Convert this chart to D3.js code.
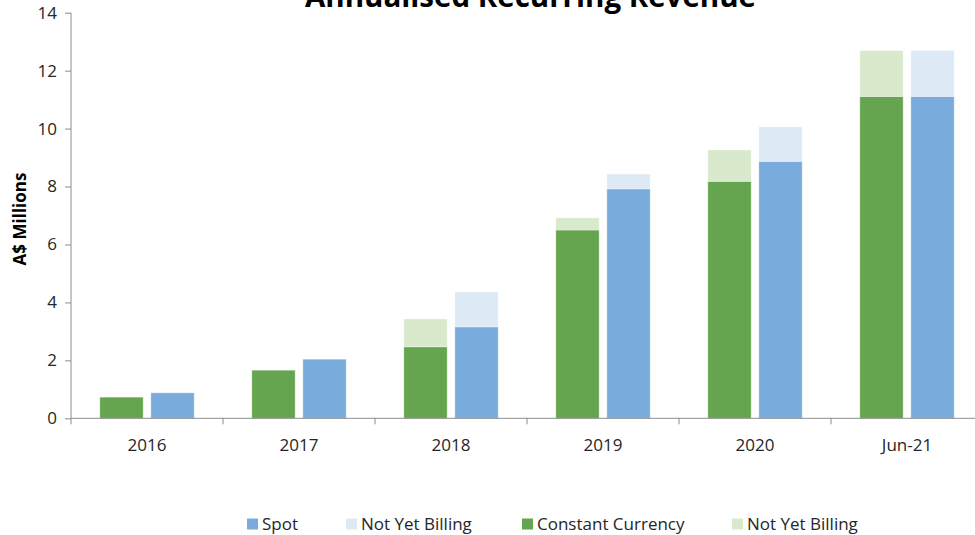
<!DOCTYPE html>
<html>
<head>
<meta charset="utf-8">
<script src="https://cdn.jsdelivr.net/npm/d3@7"></script>
<style>
  html, body { margin: 0; padding: 0; background: #fff; }
  svg { display: block; font-family: "Open Sans", sans-serif; }
</style>
</head>
<body>
<svg id="chart" width="975" height="535"></svg>
<script>
const categories = ['2016', '2017', '2018', '2019', '2020', 'Jun-21'];
const constantCurrency = [0.73, 1.66, 2.47, 6.50, 8.18, 11.11];
const ccNotYetBilling = [0, 0, 0.96, 0.42, 1.08, 1.58];
const spot = [0.88, 2.04, 3.16, 7.92, 8.87, 11.11];
const spotNotYetBilling = [0, 0, 1.20, 0.51, 1.19, 1.58];
const yTicks = [0, 2, 4, 6, 8, 10, 12, 14];
const titleText = 'Annualised Recurring Revenue';
const yLabel = 'A$ Millions';
const legendItems = [
  { label: 'Spot', key: 'spot' },
  { label: 'Not Yet Billing', key: 'spotNYB' },
  { label: 'Constant Currency', key: 'cc' },
  { label: 'Not Yet Billing', key: 'ccNYB' }
];

const colors = {
  cc: '#65a550',
  ccNYB: '#d9e9cc',
  spot: '#79acdc',
  spotNYB: '#dde9f5'
};

const svg = d3.select('#chart');
const plotLeft = 71, plotRight = 983, plotTop = 12.7, plotBottom = 418.3;

const x0 = d3.scaleBand().domain(categories).range([plotLeft, plotRight]).padding(0);
const bw = x0.bandwidth();
const x1 = d3.scaleBand().domain(['cc', 'spot'])
  .range([bw / 2 - 47.2, bw / 2 + 47.2]).paddingInner(0.15).paddingOuter(0);
const y = d3.scaleLinear().domain([0, 14]).range([plotBottom, plotTop]);

// bars
const rows = categories.map((c, i) => ({
  cat: c,
  stacks: [
    { key: 'cc', base: constantCurrency[i], top: ccNotYetBilling[i], cBase: colors.cc, cTop: colors.ccNYB },
    { key: 'spot', base: spot[i], top: spotNotYetBilling[i], cBase: colors.spot, cTop: colors.spotNYB }
  ]
}));

const g = svg.append('g');
rows.forEach(r => {
  r.stacks.forEach(s => {
    const bx = x0(r.cat) + x1(s.key);
    const w = x1.bandwidth();
    g.append('rect')
      .attr('x', bx).attr('width', w)
      .attr('y', y(s.base)).attr('height', y(0) - y(s.base))
      .attr('fill', s.cBase)
      .attr('stroke', '#ffffff').attr('stroke-opacity', 0.35).attr('stroke-width', 1);
    if (s.top > 0) {
      g.append('rect')
        .attr('x', bx).attr('width', w)
        .attr('y', y(s.base + s.top)).attr('height', y(s.base) - y(s.base + s.top))
        .attr('fill', s.cTop)
        .attr('stroke', '#ffffff').attr('stroke-opacity', 0.35).attr('stroke-width', 1);
    }
  });
});

// y axis
const yAxis = d3.axisLeft(y).tickValues(yTicks).tickSize(6).tickPadding(8).tickFormat(d3.format('d'));
const yg = svg.append('g').attr('transform', `translate(${plotLeft},0)`).call(yAxis);
yg.select('.domain').attr('stroke', '#8c8c8c').attr('d', `M-0,${plotTop}V${plotBottom}`);
yg.selectAll('.tick line').attr('stroke', '#8c8c8c');
yg.selectAll('.tick text').attr('fill', '#262626').style('font-size', '17px').style('font-family', '"Open Sans", sans-serif');

// x axis
const xg = svg.append('g').attr('transform', `translate(0,${plotBottom})`);
xg.append('line').attr('x1', plotLeft).attr('x2', plotRight).attr('y1', 0).attr('y2', 0).attr('stroke', '#8c8c8c');
const bounds = categories.map(c => x0(c)).concat([plotRight]);
xg.selectAll('line.tk').data(bounds).join('line').attr('class', 'tk')
  .attr('x1', d => d).attr('x2', d => d).attr('y1', 0).attr('y2', 6).attr('stroke', '#8c8c8c');
xg.selectAll('text').data(categories).join('text')
  .attr('x', d => x0(d) + bw / 2).attr('y', 32.5)
  .attr('text-anchor', 'middle').attr('fill', '#262626')
  .style('font-size', '17px').text(d => d);

// title
svg.append('text').attr('x', 530.5).attr('y', 7).attr('text-anchor', 'middle')
  .style('font-size', '29.5px').style('font-weight', 'bold').attr('fill', '#000').text(titleText);

// y label
svg.append('text').attr('transform', 'translate(26,219) rotate(-90)')
  .attr('text-anchor', 'middle').style('font-size', '17px').style('font-weight', 'bold')
  .attr('fill', '#000').text(yLabel);

// legend
const legendX = [247, 346, 522, 732];
const lg = svg.append('g').attr('transform', 'translate(0,524)');
legendItems.forEach((it, i) => {
  lg.append('rect').attr('x', legendX[i]).attr('y', -5.5).attr('width', 11).attr('height', 11).attr('fill', colors[it.key]);
  lg.append('text').attr('x', legendX[i] + 15).attr('y', 6).style('font-size', '17px').attr('fill', '#262626').text(it.label);
});
</script>
</body>
</html>
